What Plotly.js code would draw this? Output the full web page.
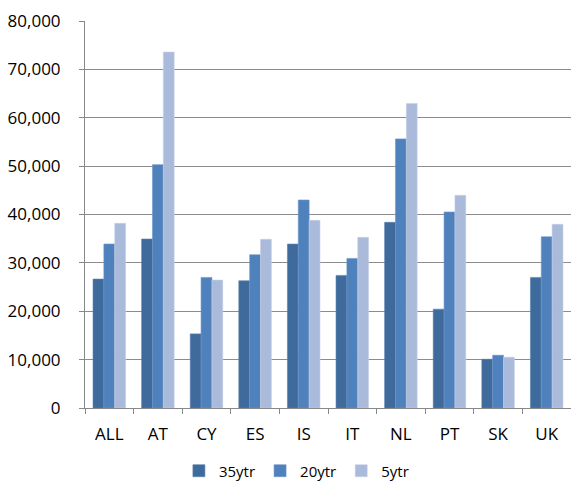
<!DOCTYPE html>
<html>
<head>
<meta charset="utf-8">
<script src="https://cdn.plot.ly/plotly-3.0.1.min.js"></script>
<style>html,body{margin:0;padding:0;background:#fff;}#chart{width:571px;height:482px;}</style>
</head>
<body>
<div id="chart"></div>
<script>
const categories = ["ALL", "AT", "CY", "ES", "IS", "IT", "NL", "PT", "SK", "UK"];
const ytr35 = [26650, 34930, 15320, 26300, 33890, 27410, 38380, 20430, 10080, 27000];
const ytr20 = [33900, 50310, 27000, 31680, 43000, 30930, 55630, 40520, 10910, 35400];
const ytr5  = [38180, 73580, 26440, 34870, 38800, 35280, 62940, 43970, 10500, 37970];
const seriesNames = ["35ytr", "20ytr", "5ytr"];
const colors = ["#3F6A9C", "#4F81BD", "#AABADA"];
const edge = ["#5A82B2", "#6B96CB", "#C4D0E6"];

const font = "'Open Sans', 'Liberation Sans', sans-serif";
const data = [ytr35, ytr20, ytr5].map((vals, i) => ({
  type: "bar",
  name: seriesNames[i],
  x: categories,
  y: vals,
  marker: {color: colors[i], line: {color: edge[i], width: 0.6}},
  hoverinfo: "x+y"
}));

const layout = {
  width: 571, height: 482,
  margin: {l: 85, r: 0, t: 21, b: 74, autoexpand: false},
  paper_bgcolor: "#fff", plot_bgcolor: "#fff",
  barmode: "group", bargap: 0.33, bargroupgap: 0,
  font: {family: font, size: 17, color: "#000"},
  xaxis: {
    type: "category",
    showline: true, linecolor: "#888", linewidth: 1,
    ticks: "outside", tickson: "boundaries", ticklen: 5, tickcolor: "#888",
    showgrid: false, zeroline: false,
    ticklabelstandoff: 11,
    tickfont: {family: font, size: 17, color: "#000"}
  },
  yaxis: {
    range: [0, 80000], dtick: 10000, tickformat: ",",
    showline: true, linecolor: "#888", linewidth: 1,
    ticks: "outside", ticklen: 5, tickcolor: "#888",
    showgrid: true, gridcolor: "#8C8C8C", gridwidth: 1.2,
    zeroline: false,
    ticklabelstandoff: 15,
    tickfont: {family: font, size: 17, color: "#000"}
  },
  showlegend: true,
  legend: {
    orientation: "h", x: 0.435, xanchor: "center", y: -0.12, yanchor: "top",
    font: {family: font, size: 15, color: "#000"},
    itemwidth: 30, tracegroupgap: 0
  }
};

Plotly.newPlot("chart", data, layout, {displayModeBar: false, staticPlot: true});
</script>
</body>
</html>
